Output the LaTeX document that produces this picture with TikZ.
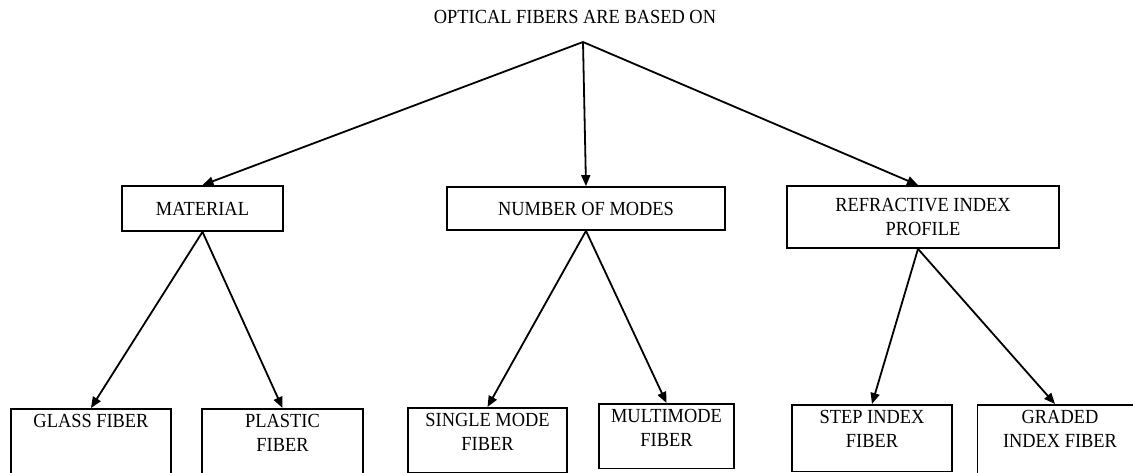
\documentclass[tikz,border=0pt]{standalone}
\usepackage{fontspec}
\setmainfont{Liberation Serif}[FakeStretch=0.92]
\usetikzlibrary{arrows.meta}
\newcommand{\leaftext}[1]{\begin{tabular}[t]{@{}c@{}}#1\end{tabular}}
\begin{document}
\begin{tikzpicture}[
  x=1pt,y=-1pt,
  font=\fontsize{20}{24}\selectfont,
  branch/.style={draw,line width=1.8pt,align=center,inner sep=2pt},
  leaf/.style={draw,line width=1.8pt,anchor=north,inner xsep=2pt,inner ysep=5pt,text height=13.5pt,text depth=41pt},
  arr/.style={-{Triangle[length=11pt,width=9pt]},line width=1.8pt}
]
\useasboundingbox (0,0) rectangle (1133,473);
\node (root) at (575,17) {OPTICAL FIBERS ARE BASED ON};
\coordinate (apex) at (583,42);
\node[branch,minimum width=161,minimum height=45] (material) at (202.5,208.5) {MATERIAL};
\node[branch,minimum width=278,minimum height=43] (modes) at (586,208.5) {NUMBER OF MODES};
\node[branch,minimum width=272,minimum height=62] (profile) at (923,217) {REFRACTIVE INDEX\\PROFILE};
\node[leaf,minimum width=160,text depth=60pt] (glass) at (91,408) {\leaftext{GLASS FIBER}};
\node[leaf,minimum width=161] (plastic) at (282.5,408) {\leaftext{PLASTIC\\FIBER}};
\node[leaf,minimum width=159] (single) at (487.5,407) {\leaftext{SINGLE MODE\\FIBER}};
\node[leaf,minimum width=135] (multi) at (666.5,403) {\leaftext{MULTIMODE\\FIBER}};
\node[leaf,minimum width=160,text depth=43pt] (stepidx) at (872,404) {\leaftext{STEP INDEX\\FIBER}};
\node[leaf,minimum width=165,text depth=60pt] (graded) at (1060,404) {\leaftext{GRADED\\INDEX FIBER}};
\draw[arr] (apex) -- (material.north);
\draw[arr] (apex) -- (modes.north);
\draw[arr] (apex) -- ([xshift=-5pt]profile.north);
\draw[arr] (material.south) -- (glass.north);
\draw[arr] (material.south) -- (plastic.north);
\draw[arr] (modes.south) -- (single.north);
\draw[arr] (modes.south) -- (multi.north);
\draw[arr] ([xshift=-5pt]profile.south) -- (stepidx.north);
\draw[arr] ([xshift=-5pt]profile.south) -- ([xshift=-5pt]graded.north);
\end{tikzpicture}
\end{document}
